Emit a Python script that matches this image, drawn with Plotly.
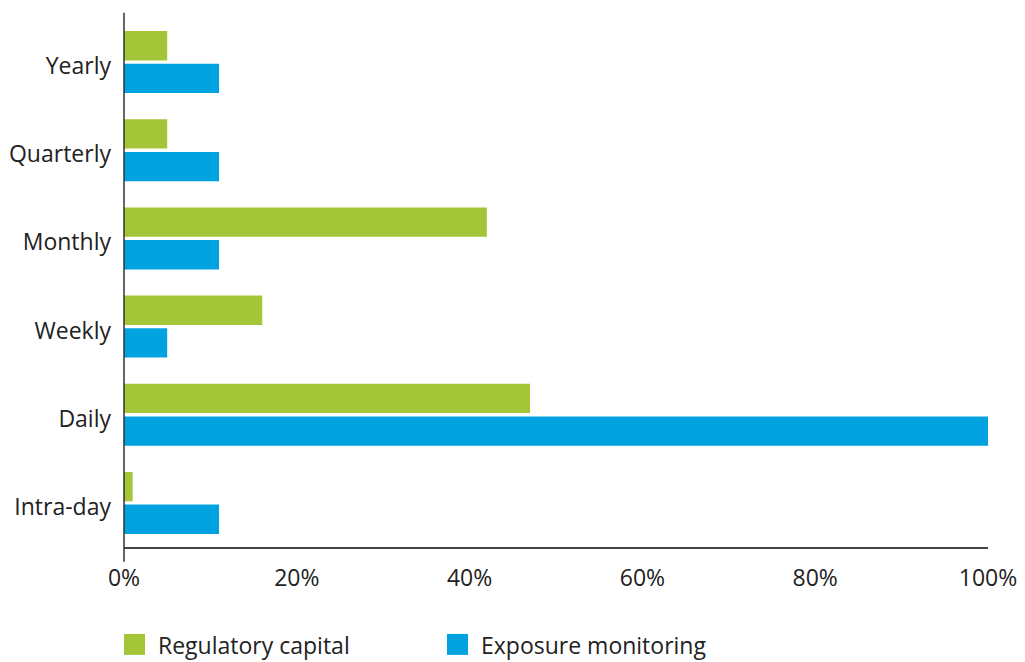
import plotly.graph_objects as go

# Frequency of calculation, share of respondents (%)
categories = ["Yearly", "Quarterly", "Monthly", "Weekly", "Daily", "Intra-day"]
regulatory_capital = [5, 5, 42, 16, 47, 1]
exposure_monitoring = [11, 11, 11, 5, 100, 11]

series_names = ["Regulatory capital", "Exposure monitoring"]
series_colors = ["#A3C537", "#00A3E0"]

x_ticks = [0, 20, 40, 60, 80, 100]
x_tick_labels = ["0%", "20%", "40%", "60%", "80%", "100%"]

FONT = "Open Sans"
TEXT = "#222222"
SIZE = 23

fig = go.Figure()
for name, vals, col in zip(series_names, [regulatory_capital, exposure_monitoring], series_colors):
    fig.add_trace(go.Bar(
        y=categories, x=vals, orientation="h", name=name,
        marker=dict(color=col, line=dict(width=0)),
        showlegend=False, hoverinfo="x+y",
    ))

fig.update_layout(
    width=1025, height=662,
    margin=dict(l=124, r=37, t=17.5, b=115),
    paper_bgcolor="white", plot_bgcolor="white",
    barmode="group", bargap=0.26, bargroupgap=0.1,
    font=dict(family=FONT, size=SIZE, color=TEXT),
    xaxis=dict(
        range=[0, 100], tickvals=x_ticks, ticktext=x_tick_labels,
        showgrid=False, zeroline=False, showline=True, automargin=False,
        linecolor="#444444", linewidth=1.5, ticks="", ticklabelstandoff=10,
        tickfont=dict(size=SIZE, color=TEXT),
    ),
    yaxis=dict(
        categoryorder="array", categoryarray=categories, autorange="reversed",
        showgrid=False, zeroline=False, showline=False, ticks="", automargin=False,
        ticklabelstandoff=12, ticklabelshift=-4,
        tickfont=dict(size=SIZE, color=TEXT),
    ),
)

# vertical axis line, running a little past both ends of the plot area
fig.add_shape(type="line", xref="paper", yref="paper",
              x0=0, x1=0, y0=-0.028, y1=1.010,
              line=dict(color="#333333", width=1.5))

# legend: square swatches with labels below the chart
legend_x = [0, 323]  # pixel offsets from the plot area's left edge
plot_w = 1025 - 124 - 37
plot_h = 662 - 17.5 - 115
for off, name, col in zip(legend_x, series_names, series_colors):
    x0 = off / plot_w
    fig.add_shape(type="rect", xref="paper", yref="paper",
                  x0=x0, x1=x0 + 21 / plot_w,
                  y0=-(655 - 547) / plot_h, y1=-(634 - 547) / plot_h,
                  fillcolor=col, line=dict(width=0))
    fig.add_annotation(xref="paper", yref="paper", x=x0 + 32 / plot_w,
                       y=-(645 - 547) / plot_h, text=name, showarrow=False,
                       xanchor="left", yanchor="middle",
                       font=dict(size=SIZE, color=TEXT, family=FONT))

fig.write_html("out.html")
